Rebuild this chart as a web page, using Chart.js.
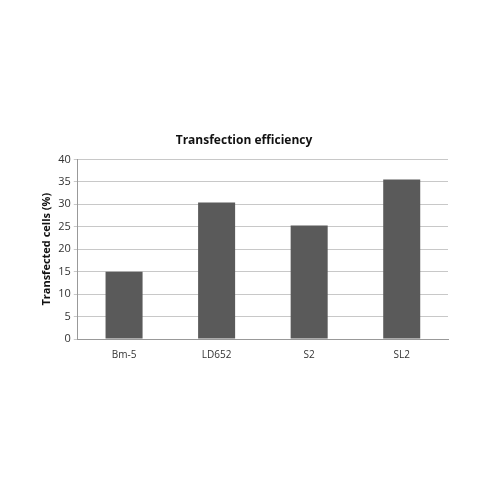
<!DOCTYPE html>
<html>
<head>
<meta charset="utf-8">
<script src="https://cdn.jsdelivr.net/npm/chart.js@4/dist/chart.umd.min.js"></script>
<style>
  html, body { margin: 0; padding: 0; background: #fff; }
  #wrap { width: 488px; height: 488px; }
</style>
</head>
<body>
<div id="wrap"><canvas id="chart"></canvas></div>
<script>
// データ
const categories = ['Bm-5', 'LD652', 'S2', 'SL2'];
const efficiency = [15.0, 30.4, 25.3, 35.5];
const yTicks = [0, 5, 10, 15, 20, 25, 30, 35, 40];

const ctx = document.getElementById('chart').getContext('2d');
new Chart(ctx, {
  type: 'bar',
  data: {
    labels: categories,
    datasets: [{
      data: efficiency,
      backgroundColor: '#5a5a5a',
      borderWidth: 0,
      categoryPercentage: 1.0,
      barPercentage: 0.4
    }]
  },
  options: {
    responsive: true,
    maintainAspectRatio: false,
    animation: false,
    layout: { padding: { top: 133, left: 40, right: 40, bottom: 125 } },
    plugins: {
      legend: { display: false },
      tooltip: { enabled: false },
      title: {
        display: true,
        text: 'Transfection efficiency',
        color: '#111',
        font: { family: 'Open Sans', size: 12, weight: 'bold' },
        padding: { top: 0, bottom: 12 }
      }
    },
    scales: {
      x: {
        grid: { display: false },
        border: { color: '#999' },
        ticks: { color: '#333', font: { family: 'Open Sans', size: 10 }, padding: 2 }
      },
      y: {
        min: 0,
        max: 40,
        afterBuildTicks: function (axis) {
          axis.ticks = yTicks.map(function (v) { return { value: v }; });
        },
        grid: { color: '#c8c8c8', drawTicks: true, tickLength: 4 },
        border: { color: '#999' },
        ticks: { color: '#333', font: { family: 'Open Sans', size: 11 }, padding: 3 },
        title: {
          display: true,
          text: 'Transfected cells (%)',
          color: '#111',
          font: { family: 'Open Sans', size: 11, weight: 'bold' },
          padding: { top: 0, bottom: 2 }
        }
      }
    }
  }
});
</script>
</body>
</html>
